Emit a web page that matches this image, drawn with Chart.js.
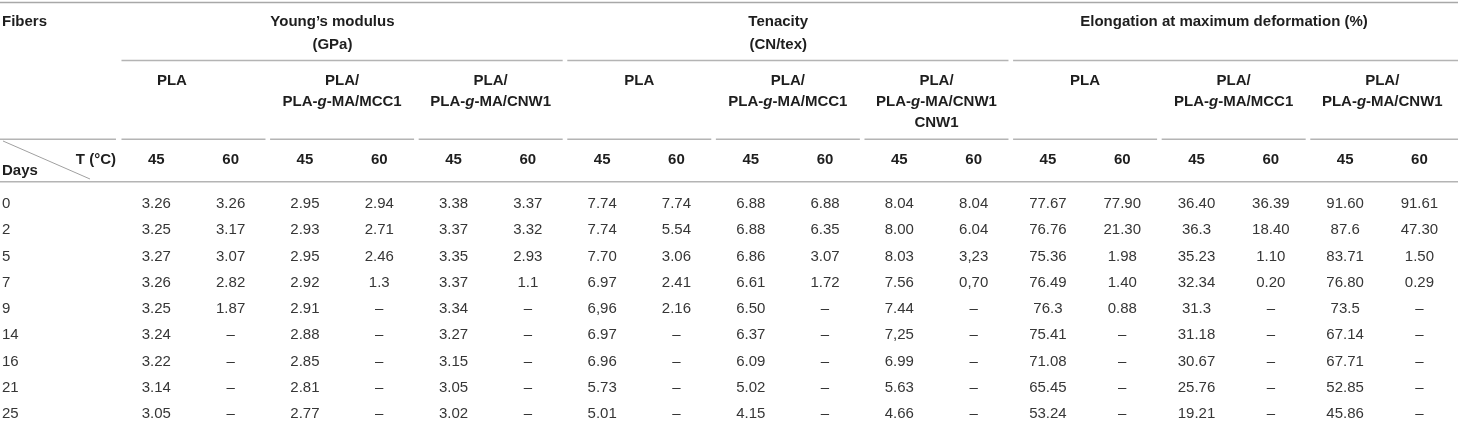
<!DOCTYPE html>
<html>
<head>
<meta charset="utf-8">
<title>PLA fibers - mechanical properties during hydrolysis</title>
<script src="https://cdn.jsdelivr.net/npm/chart.js@4.4.1/dist/chart.umd.min.js"></script>
<style>
  body { margin: 0; background: #fff; }
  #wrap { width: 1458px; height: 421px; }
</style>
</head>
<body>
<div id="wrap"><canvas id="myChart"></canvas></div>
<script>
// rows and header labels
const days = ['0', '2', '5', '7', '9', '14', '16', '21', '25']
const temperatures = ['45', '60']
const properties = [['Young’s modulus', '(GPa)'], ['Tenacity', '(CN/tex)'], ['Elongation at maximum deformation (%)']]
const fibers = [
  ['PLA'], ['PLA/', 'PLA-*g*-MA/MCC1'], ['PLA/', 'PLA-*g*-MA/CNW1'],
  ['PLA'], ['PLA/', 'PLA-*g*-MA/MCC1'], ['PLA/', 'PLA-*g*-MA/CNW1', 'CNW1'],
  ['PLA'], ['PLA/', 'PLA-*g*-MA/MCC1'], ['PLA/', 'PLA-*g*-MA/CNW1']
]

// Young's modulus (GPa)
const modulusPLA45 = ['3.26', '3.25', '3.27', '3.26', '3.25', '3.24', '3.22', '3.14', '3.05']
const modulusPLA60 = ['3.26', '3.17', '3.07', '2.82', '1.87', '–', '–', '–', '–']
const modulusMCC45 = ['2.95', '2.93', '2.95', '2.92', '2.91', '2.88', '2.85', '2.81', '2.77']
const modulusMCC60 = ['2.94', '2.71', '2.46', '1.3', '–', '–', '–', '–', '–']
const modulusCNW45 = ['3.38', '3.37', '3.35', '3.37', '3.34', '3.27', '3.15', '3.05', '3.02']
const modulusCNW60 = ['3.37', '3.32', '2.93', '1.1', '–', '–', '–', '–', '–']
// Tenacity (CN/tex)
const tenacityPLA45 = ['7.74', '7.74', '7.70', '6.97', '6,96', '6.97', '6.96', '5.73', '5.01']
const tenacityPLA60 = ['7.74', '5.54', '3.06', '2.41', '2.16', '–', '–', '–', '–']
const tenacityMCC45 = ['6.88', '6.88', '6.86', '6.61', '6.50', '6.37', '6.09', '5.02', '4.15']
const tenacityMCC60 = ['6.88', '6.35', '3.07', '1.72', '–', '–', '–', '–', '–']
const tenacityCNW45 = ['8.04', '8.00', '8.03', '7.56', '7.44', '7,25', '6.99', '5.63', '4.66']
const tenacityCNW60 = ['8.04', '6.04', '3,23', '0,70', '–', '–', '–', '–', '–']
// Elongation at maximum deformation (%)
const elongPLA45 = ['77.67', '76.76', '75.36', '76.49', '76.3', '75.41', '71.08', '65.45', '53.24']
const elongPLA60 = ['77.90', '21.30', '1.98', '1.40', '0.88', '–', '–', '–', '–']
const elongMCC45 = ['36.40', '36.3', '35.23', '32.34', '31.3', '31.18', '30.67', '25.76', '19.21']
const elongMCC60 = ['36.39', '18.40', '1.10', '0.20', '–', '–', '–', '–', '–']
const elongCNW45 = ['91.60', '87.6', '83.71', '76.80', '73.5', '67.14', '67.71', '52.85', '45.86']
const elongCNW60 = ['91.61', '47.30', '1.50', '0.29', '–', '–', '–', '–', '–']

const columns = [
  modulusPLA45, modulusPLA60, modulusMCC45, modulusMCC60, modulusCNW45, modulusCNW60,
  tenacityPLA45, tenacityPLA60, tenacityMCC45, tenacityMCC60, tenacityCNW45, tenacityCNW60,
  elongPLA45, elongPLA60, elongMCC45, elongMCC60, elongCNW45, elongCNW60
]

// scale: x = column index, y = row index (header rows sit at negative values)
const X_MIN = -2.104, X_MAX = 17.519
const Y_MIN = -7.771, Y_MAX = 8.267
const LEFT = -2.077
const TITLE_Y = [-6.933, -6.076]
const FIBER_Y = [-4.686, -3.886, -3.086]
const TEMP_Y = -1.688
const RULE_TOP = -7.676, RULE_GROUP = -5.467, RULE_SUB = -2.465, RULE_HEAD = -0.85
const FONT = '"Liberation Sans", Arial, Helvetica, sans-serif'

const textSet = (labels, pos, opts = {}) => ({
  labels: labels,
  data: labels.map((_, j) => pos(j)),
  pointRadius: 0,
  showLine: false,
  align: opts.align || 'center',
  bold: !!opts.bold
})
const rule = (x1, y1, x2, y2, color = '#b4b4b4', width = 1.6) => ({
  data: [{ x: x1, y: y1 }, { x: x2, y: y2 }],
  showLine: true,
  borderColor: color,
  borderWidth: width,
  pointRadius: 0,
  clip: false
})

const datasets = []

// rules
datasets.push(rule(X_MIN, RULE_TOP, X_MAX, RULE_TOP, '#a8a8a8'))
properties.forEach((p, i) => {
  datasets.push(rule(6 * i - 0.469, RULE_GROUP, i === 2 ? X_MAX : 6 * i + 5.469, RULE_GROUP))
})
datasets.push(rule(X_MIN, RULE_SUB, -0.543, RULE_SUB))
fibers.forEach((f, j) => {
  datasets.push(rule(2 * j - 0.469, RULE_SUB, j === 8 ? X_MAX : 2 * j + 1.469, RULE_SUB))
})
datasets.push(rule(X_MIN, RULE_HEAD, X_MAX, RULE_HEAD))
datasets.push(rule(-2.064, -2.4, -0.893, -0.952, '#a0a0a0', 1))

// header text
datasets.push(textSet(['Fibers'], () => ({ x: LEFT, y: TITLE_Y[0] }), { align: 'left', bold: true }))
properties.forEach((p, i) => {
  datasets.push(textSet(p, (l) => ({ x: 6 * i + 2.37, y: TITLE_Y[l] }), { bold: true }))
})
fibers.forEach((f, j) => {
  const shift = j === 0 ? -0.29 : 0
  datasets.push(textSet(f, (l) => ({ x: 2 * j + 0.5 + shift, y: FIBER_Y[l] }), { bold: true }))
})
datasets.push(textSet(['T (°C)'], () => ({ x: -0.543, y: -1.676 }), { align: 'right', bold: true }))
datasets.push(textSet(['Days'], () => ({ x: LEFT, y: -1.246 }), { align: 'left', bold: true }))
columns.forEach((c, k) => {
  datasets.push(textSet([temperatures[k % 2]], () => ({ x: k, y: TEMP_Y }), { bold: true }))
})

// body
datasets.push(textSet(days, (r) => ({ x: LEFT, y: r }), { align: 'left' }))
columns.forEach((c, k) => {
  datasets.push(textSet(c, (r) => ({ x: k, y: r })))
})

// draws "a*b*c" with b in italics
const drawRich = (ctx, text, x, y, align, bold) => {
  const parts = text.split('*')
  const weight = bold ? 'bold ' : ''
  const fonts = parts.map((_, i) => (i % 2 ? 'italic ' : '') + weight + '15px ' + FONT)
  let total = 0
  const widths = parts.map((s, i) => {
    ctx.font = fonts[i]
    const w = ctx.measureText(s).width
    total += w
    return w
  })
  let cx = align === 'left' ? x : align === 'right' ? x - total : x - total / 2
  ctx.textAlign = 'left'
  ctx.textBaseline = 'middle'
  ctx.fillStyle = bold ? '#1e1e1e' : '#363636'
  parts.forEach((s, i) => {
    ctx.font = fonts[i]
    ctx.fillText(s, cx, y)
    cx += widths[i]
  })
}

const tableText = {
  id: 'tableText',
  afterDatasetsDraw(chart) {
    const ctx = chart.ctx
    ctx.save()
    chart.data.datasets.forEach((ds, i) => {
      if (!ds.labels) return
      const meta = chart.getDatasetMeta(i)
      meta.data.forEach((pt, j) => {
        drawRich(ctx, ds.labels[j], pt.x, pt.y, ds.align, ds.bold)
      })
    })
    ctx.restore()
  }
}

const chart = document.getElementById('myChart')
new Chart(chart, {
  type: 'scatter',
  data: { datasets: datasets },
  options: {
    responsive: true,
    maintainAspectRatio: false,
    animation: false,
    events: [],
    layout: { padding: 0 },
    plugins: {
      legend: { display: false },
      tooltip: { enabled: false }
    },
    scales: {
      x: { type: 'linear', display: false, min: X_MIN, max: X_MAX },
      y: { type: 'linear', display: false, min: Y_MIN, max: Y_MAX, reverse: true }
    }
  },
  plugins: [tableText]
})
</script>
</body>
</html>
